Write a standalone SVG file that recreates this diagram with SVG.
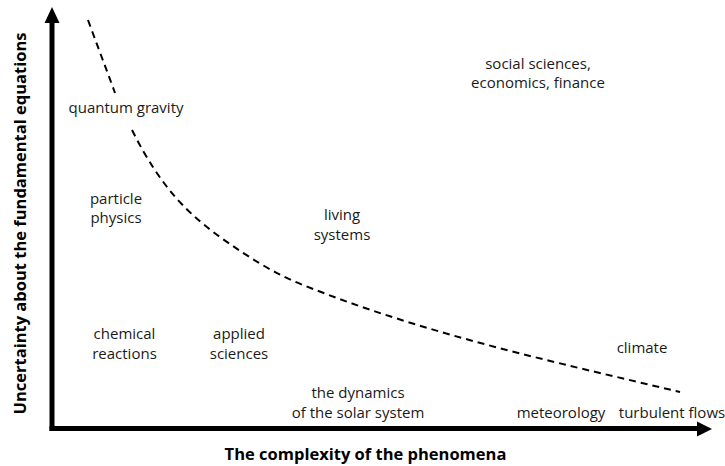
<svg xmlns="http://www.w3.org/2000/svg" width="725" height="466" viewBox="0 0 725 466">
<style>
.lbl{font-family:"Open Sans","Liberation Sans",sans-serif;font-size:15px;fill:#1a1a1a;text-anchor:middle}
.ax{font-family:"Open Sans","Liberation Sans",sans-serif;font-size:16.5px;font-weight:bold;fill:#000;text-anchor:middle}
.axis{stroke:#000;stroke-width:5;fill:none}
.curve{stroke:#000;stroke-width:2;fill:none;stroke-dasharray:7 5}
</style>
<rect width="725" height="466" fill="#fff"/>
<g id="axes">
<line class="axis" x1="52" y1="431" x2="52" y2="20"/>
<polygon points="52,7 44.5,23 59.5,23" fill="#000"/>
<line class="axis" x1="49.5" y1="428.5" x2="699" y2="428.5"/>
<polygon points="712,429 697,421.5 697,436.5" fill="#000"/>
</g>
<g id="connectors">
<path class="curve" d="M88,20 C97,45 106,68 115,93"/>
<path class="curve" d="M132,130 C162,190 190,215 220,237 C248,257 275,274 303,285 C428,335 555,362 680,392"/>
</g>
<g id="axis-labels">
<text class="ax" x="365.5" y="460">The complexity of the phenomena</text>
<text class="ax" transform="translate(25.5,223.5) rotate(-90)">Uncertainty about the fundamental equations</text>
</g>
<g id="quantum-gravity"><text class="lbl" x="126" y="113">quantum gravity</text></g>
<g id="particle-physics"><text class="lbl" x="116" y="204">particle</text><text class="lbl" x="116" y="223">physics</text></g>
<g id="living-systems"><text class="lbl" x="342" y="220">living</text><text class="lbl" x="342" y="240">systems</text></g>
<g id="social-sciences"><text class="lbl" x="538" y="69">social sciences,</text><text class="lbl" x="538" y="88">economics, finance</text></g>
<g id="chemical-reactions"><text class="lbl" x="124.5" y="339">chemical</text><text class="lbl" x="124.5" y="359">reactions</text></g>
<g id="applied-sciences"><text class="lbl" x="239" y="339">applied</text><text class="lbl" x="239" y="359">sciences</text></g>
<g id="solar-system"><text class="lbl" x="358" y="398">the dynamics</text><text class="lbl" x="358" y="418">of the solar system</text></g>
<g id="meteorology"><text class="lbl" x="561" y="418">meteorology</text></g>
<g id="turbulent-flows"><text class="lbl" x="672" y="418">turbulent flows</text></g>
<g id="climate"><text class="lbl" x="642" y="353">climate</text></g>
</svg>
